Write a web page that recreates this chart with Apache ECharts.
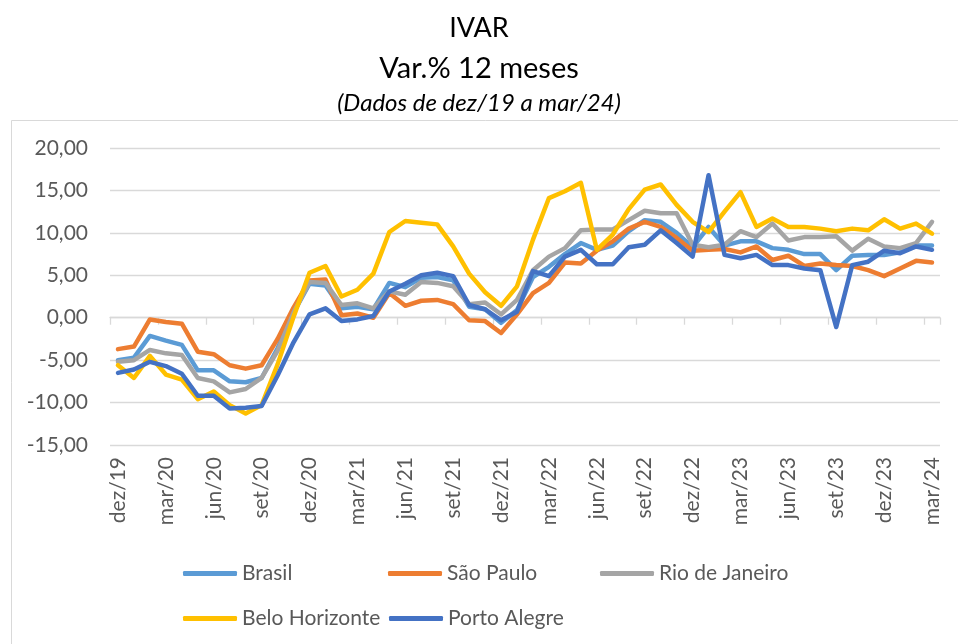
<!DOCTYPE html>
<html>
<head>
<meta charset="utf-8">
<script src="https://cdn.jsdelivr.net/npm/echarts@6/dist/echarts.min.js"></script>
<style>
html,body{margin:0;padding:0;background:#fff;}
#chart{width:958px;height:644px;}
</style>
</head>
<body>
<div id="chart"></div>
<script>
const categories = [
  'dez/19','jan/20','fev/20','mar/20','abr/20','mai/20','jun/20','jul/20','ago/20','set/20','out/20','nov/20',
  'dez/20','jan/21','fev/21','mar/21','abr/21','mai/21','jun/21','jul/21','ago/21','set/21','out/21','nov/21',
  'dez/21','jan/22','fev/22','mar/22','abr/22','mai/22','jun/22','jul/22','ago/22','set/22','out/22','nov/22',
  'dez/22','jan/23','fev/23','mar/23','abr/23','mai/23','jun/23','jul/23','ago/23','set/23','out/23','nov/23',
  'dez/23','jan/24','fev/24','mar/24'
];

const brasil = [-5.0,-4.7,-2.15,-2.7,-3.2,-6.2,-6.2,-7.5,-7.6,-7.1,-3.6,0.6,
  4.0,3.8,1.1,1.3,1.0,4.1,3.6,4.7,4.8,4.4,1.3,1.0,
  -0.6,0.9,4.8,6.0,7.5,8.8,8.0,8.5,10.2,11.5,11.3,10.0,
  8.3,10.7,8.5,9.0,9.0,8.2,8.0,7.5,7.5,5.6,7.3,7.4,
  7.4,7.7,8.5,8.5];

const saoPaulo = [-3.7,-3.4,-0.2,-0.5,-0.7,-4.0,-4.3,-5.6,-6.0,-5.6,-2.5,1.2,
  4.4,4.5,0.3,0.5,0.0,2.9,1.4,2.0,2.1,1.6,-0.3,-0.4,
  -1.8,0.4,2.9,4.1,6.5,6.4,7.9,9.0,10.5,11.3,10.7,9.4,
  7.9,8.0,8.1,7.7,8.4,6.8,7.3,6.1,6.4,6.2,6.1,5.6,
  4.9,5.8,6.7,6.5];

const rioDeJaneiro = [-5.2,-5.0,-3.8,-4.2,-4.4,-7.1,-7.5,-8.8,-8.4,-7.1,-3.9,0.6,
  4.2,4.1,1.5,1.7,1.1,3.1,2.7,4.2,4.1,3.7,1.6,1.8,
  0.4,2.1,5.6,7.2,8.2,10.3,10.4,10.4,11.5,12.6,12.3,12.3,
  8.6,8.3,8.6,10.2,9.5,11.1,9.1,9.5,9.5,9.6,7.9,9.3,
  8.4,8.2,8.8,11.3];

const beloHorizonte = [-5.6,-7.1,-4.5,-6.7,-7.3,-9.6,-8.7,-10.3,-11.3,-10.3,-5.5,0.1,
  5.3,6.1,2.5,3.3,5.2,10.1,11.4,11.2,11.0,8.4,5.2,3.0,
  1.4,3.7,9.2,14.1,14.9,15.9,8.0,9.8,12.8,15.1,15.7,13.3,
  11.3,10.1,12.5,14.8,10.7,11.7,10.7,10.7,10.5,10.2,10.5,10.3,
  11.6,10.5,11.1,9.9];

const portoAlegre = [-6.5,-6.1,-5.2,-5.7,-6.6,-9.2,-9.2,-10.7,-10.6,-10.4,-6.8,-2.9,
  0.4,1.1,-0.4,-0.2,0.2,3.1,4.0,5.0,5.3,4.9,1.5,1.0,
  -0.3,0.7,5.5,4.9,7.2,8.0,6.3,6.3,8.3,8.6,10.3,8.8,
  7.2,16.8,7.4,7.0,7.4,6.2,6.2,5.8,5.6,-1.1,6.2,6.6,
  7.9,7.6,8.4,8.0];

const seriesNames = ['Brasil','São Paulo','Rio de Janeiro','Belo Horizonte','Porto Alegre'];
const seriesData = [brasil, saoPaulo, rioDeJaneiro, beloHorizonte, portoAlegre];
const colors = ['#5B9BD5','#ED7D31','#A5A5A5','#FFC000','#4472C4'];

const FONT = 'Lato, "Open Sans", sans-serif';
const chart = echarts.init(document.getElementById('chart'), null, {renderer:'canvas'});

const legendPos = [
  {left:183, top:563},
  {left:388, top:563},
  {left:600, top:563},
  {left:183, top:608},
  {left:389, top:608}
];

const option = {
  animation:false,
  backgroundColor:'#fff',
  color: colors,
  title: [
    {text:'IVAR', left:'center', top:15, padding:0,
      textStyle:{fontFamily:FONT, fontSize:27, fontWeight:'normal', color:'#000'}},
    {text:'Var.% 12 meses', left:'center', top:54, padding:0,
      textStyle:{fontFamily:FONT, fontSize:29, fontWeight:'normal', color:'#000'}},
    {text:'(Dados de dez/19 a mar/24)', left:'center', top:91, padding:0,
      textStyle:{fontFamily:FONT, fontSize:24, fontStyle:'italic', fontWeight:'normal', color:'#000'}}
  ],
  graphic: [
    {type:'rect', left:9, top:118, shape:{x:0,y:0,width:960,height:600}, silent:true,
      style:{fill:'none', stroke:'#d9d9d9', lineWidth:1}}
  ],
  legend: seriesNames.map((n,i)=>({
    data:[n], left:legendPos[i].left, top:legendPos[i].top, padding:0,
    icon:'roundRect', itemWidth:54, itemHeight:5, itemGap:5,
    textStyle:{fontFamily:FONT, fontSize:21, color:'#595959', padding:[0,0,0,0]}
  })),
  grid:{left:110, right:18, top:148, bottom:199, containLabel:false},
  xAxis:[
    {type:'category', data:categories, boundaryGap:true, position:'bottom',
      axisLine:{show:false, onZero:false},
      axisTick:{show:false},
      axisLabel:{interval:2, rotate:90, margin:12, fontFamily:FONT, fontSize:21, color:'#595959'},
      splitLine:{show:false}},
    {type:'category', data:categories, boundaryGap:true, position:'bottom',
      axisLine:{show:true, onZero:true, lineStyle:{color:'#d9d9d9', width:1.3}},
      axisTick:{show:true, interval:2, length:7, lineStyle:{color:'#d9d9d9', width:1.3}},
      axisLabel:{show:false},
      splitLine:{show:false}}
  ],
  yAxis:{
    type:'value', min:-15, max:20, interval:5,
    axisLine:{show:false}, axisTick:{show:false},
    axisLabel:{margin:22, fontFamily:FONT, fontSize:21, color:'#595959',
      formatter:v=>v.toFixed(2).replace('.',',')},
    splitLine:{lineStyle:{color:'#d9d9d9', width:1.3}}
  },
  series: seriesNames.map((n,i)=>({
    name:n, type:'line', data:seriesData[i], xAxisIndex:0,
    symbol:'none', smooth:false,
    lineStyle:{width:4.5, color:colors[i], cap:'round', join:'round'},
    itemStyle:{color:colors[i]}
  }))
};
chart.setOption(option);
</script>
</body>
</html>
